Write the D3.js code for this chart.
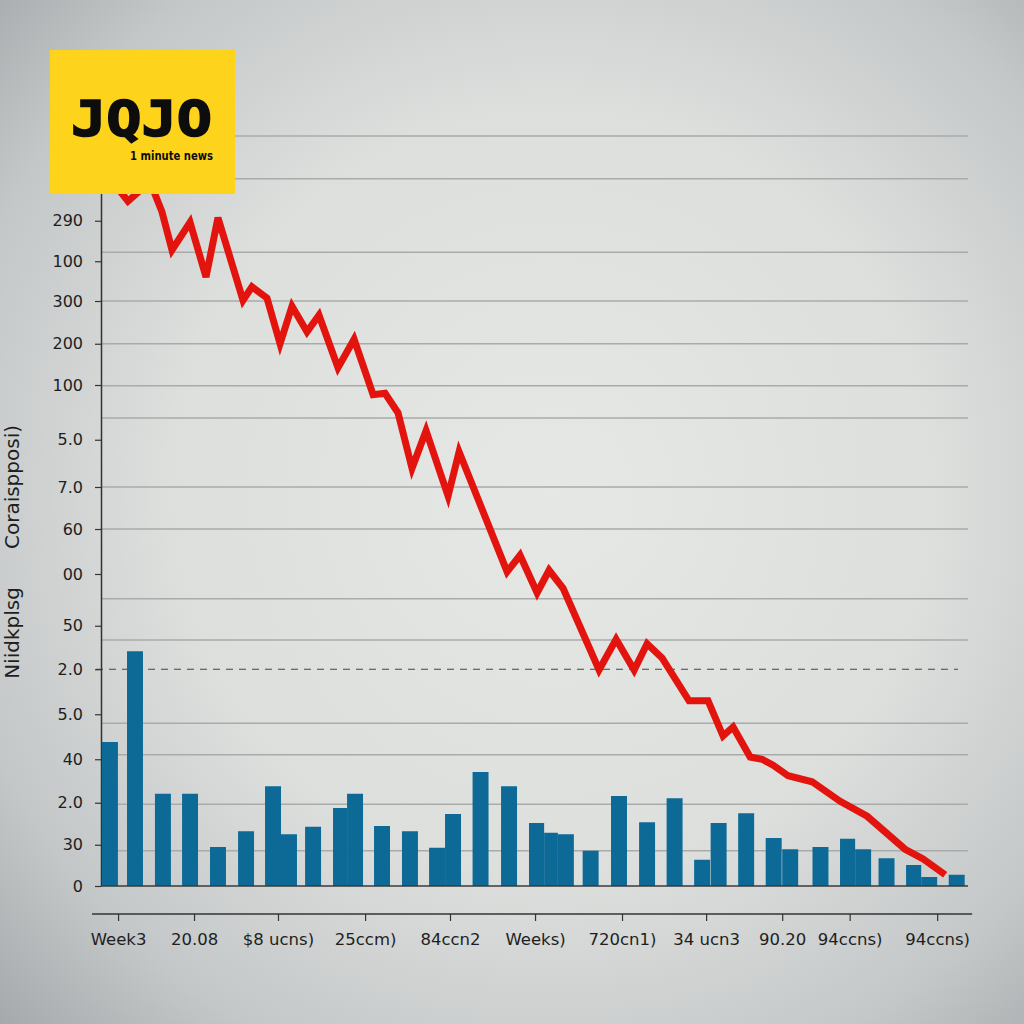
<!DOCTYPE html>
<html>
<head>
<meta charset="utf-8">
<script src="https://cdn.jsdelivr.net/npm/d3@7"></script>
<style>
  html, body { margin: 0; padding: 0; }
  body { width: 1024px; height: 1024px; overflow: hidden; }
  svg { display: block; }
</style>
</head>
<body>
<svg id="chart" width="1024" height="1024"></svg>
<script>
// ---------- data ----------
const yTickValues = [88.7, 83.3, 78, 72.3, 66.8, 59.5, 53.2, 47.6, 41.6, 34.7, 28.9, 22.9, 16.9, 11.1, 5.5, 0];
const yTickLabels = ["290", "100", "300", "200", "100", "5.0", "7.0", "60", "00", "50", "2.0", "5.0", "40", "2.0", "30", "0"];
const gridValues = [100, 94.3, 84.5, 78, 72.3, 66.7, 62.4, 53.2, 47.6, 38.3, 32.8, 21.7, 17.5, 10.9, 4.7];
const refValue = 28.9;

const xTickValues = [1.24, 6.76, 12.86, 19.19, 25.36, 31.54, 37.86, 43.97, 49.5, 54.4, 60.76];
const xTickLabels = ["Week3", "20.08", "$8 ucns)", "25ccm)", "84ccn2", "Weeks)", "720cn1)", "34 ucn3", "90.20", "94ccns)", "94ccns)"];

const barWeek = [0.07, 1.89, 3.92, 5.89, 7.92, 9.96, 11.92, 13.08, 14.83, 16.86, 17.88, 19.84, 21.87, 23.84, 25.0, 27.0, 29.07, 31.1, 32.2, 33.2, 35.0, 37.06, 39.1, 41.1, 43.1, 44.3, 46.3, 48.3, 49.5, 51.7, 53.7, 54.8, 56.5, 58.5, 59.6, 61.6];
const barValue = [19.2, 31.3, 12.3, 12.3, 5.2, 7.3, 13.3, 6.9, 7.9, 10.4, 12.3, 8.0, 7.3, 5.1, 9.6, 15.2, 13.3, 8.4, 7.1, 6.9, 4.7, 12.0, 8.5, 11.7, 3.5, 8.4, 9.7, 6.4, 4.9, 5.2, 6.3, 4.9, 3.7, 2.8, 1.2, 1.5];

const lineWeek = [1.02, 1.96, 3.56, 4.43, 5.16, 6.47, 7.63, 8.50, 10.32, 10.97, 12.06, 13.01, 13.88, 14.97, 15.84, 17.22, 18.39, 19.77, 20.64, 21.58, 22.60, 23.62, 25.22, 26.02, 29.51, 30.45, 31.69, 32.56, 33.58, 36.19, 37.43, 38.74, 39.68, 40.77, 42.73, 44.11, 45.20, 45.93, 47.17, 48.04, 48.84, 49.93, 51.67, 53.71, 55.67, 58.43, 59.74, 61.34];
const lineValue = [93.5, 91.3, 93.9, 89.9, 84.8, 88.5, 81.2, 89.1, 78.1, 79.9, 78.4, 72.3, 77.3, 73.9, 76.1, 69.1, 72.9, 65.5, 65.7, 63.1, 55.7, 60.7, 52.0, 57.9, 41.9, 44.1, 39.1, 42.1, 39.7, 28.8, 32.9, 28.8, 32.3, 30.4, 24.7, 24.7, 20.0, 21.2, 17.2, 16.9, 16.1, 14.7, 13.9, 11.3, 9.3, 4.9, 3.6, 1.5];

const yTitles = ["Coraispposi)", "Niidkplsg"];
const logoText = "JQJO";
const logoSub = "1 minute news";

// ---------- layout ----------
const svg = d3.select("#chart");
const W = 1024, H = 1024;
const plot = { left: 101, right: 968, top: 136, bottom: 886 };
const barWidthWeeks = 1.16;

const x = d3.scaleLinear().domain([0, 63]).range([plot.left, plot.right]);
const y = d3.scaleLinear().domain([0, 100]).range([plot.bottom, plot.top]);

// background
const defs = svg.append("defs");
const rg = defs.append("radialGradient").attr("id", "bg")
  .attr("cx", "54%").attr("cy", "48%").attr("r", "75%");
rg.append("stop").attr("offset", "0%").attr("stop-color", "#e6e8e6");
rg.append("stop").attr("offset", "50%").attr("stop-color", "#dddfdd");
rg.append("stop").attr("offset", "80%").attr("stop-color", "#c4c7c8");
rg.append("stop").attr("offset", "100%").attr("stop-color", "#a6a9ab");
svg.append("rect").attr("width", W).attr("height", H).attr("fill", "url(#bg)");

// gridlines
svg.append("g").selectAll("line").data(gridValues).join("line")
  .attr("x1", plot.left).attr("x2", plot.right)
  .attr("y1", d => y(d)).attr("y2", d => y(d))
  .attr("stroke", "#a9abab").attr("stroke-width", 1.5);

// dashed reference line
svg.append("line")
  .attr("x1", plot.left - 5).attr("x2", plot.right - 10)
  .attr("y1", y(refValue)).attr("y2", y(refValue))
  .attr("stroke", "#444").attr("stroke-width", 1.1)
  .attr("stroke-dasharray", "7,6");

// y axis
const yAxis = d3.axisLeft(y)
  .tickValues(yTickValues)
  .tickFormat((d, i) => yTickLabels[i])
  .tickSize(6).tickPadding(12).tickSizeOuter(0);
const gy = svg.append("g").attr("transform", `translate(${plot.left},0)`).call(yAxis);
gy.select(".domain").attr("stroke", "#333").attr("stroke-width", 1.5);
gy.selectAll(".tick line").attr("stroke", "#333").attr("stroke-width", 1.2);
gy.selectAll(".tick text").attr("fill", "#1e1e1e")
  .style("font-family", "'DejaVu Sans', sans-serif").style("font-size", "16px");

// bars
const barData = barWeek.map((w, i) => ({
  w, v: barValue[i],
  end: Math.min(w + barWidthWeeks, i < barWeek.length - 1 ? barWeek[i + 1] : Infinity)
}));
svg.append("g").selectAll("rect").data(barData).join("rect")
  .attr("x", d => x(d.w))
  .attr("width", d => x(d.end) - x(d.w))
  .attr("y", d => y(d.v))
  .attr("height", d => y(0) - y(d.v))
  .attr("fill", "#0d6a96");

// baseline
svg.append("line")
  .attr("x1", plot.left).attr("x2", plot.right)
  .attr("y1", y(0)).attr("y2", y(0))
  .attr("stroke", "#3a3a3a").attr("stroke-width", 1.6);

// red line
const lineData = lineWeek.map((w, i) => [w, lineValue[i]]);
svg.append("path").datum(lineData)
  .attr("d", d3.line().x(d => x(d[0])).y(d => y(d[1])))
  .attr("fill", "none").attr("stroke", "#e3140e").attr("stroke-width", 7)
  .attr("stroke-linejoin", "miter").attr("stroke-miterlimit", 4);

// x axis (below the baseline)
const xAxisY = y(0) + 28;
const xAxis = d3.axisBottom(x)
  .tickValues(xTickValues)
  .tickFormat((d, i) => xTickLabels[i])
  .tickSize(7).tickPadding(12).tickSizeOuter(0);
const gx = svg.append("g").attr("transform", `translate(0,${xAxisY})`).call(xAxis);
gx.select(".domain").remove();
gx.append("line").attr("x1", x(-0.65)).attr("x2", x(63.3)).attr("y1", 0).attr("y2", 0)
  .attr("stroke", "#333").attr("stroke-width", 1.5);
gx.selectAll(".tick line").attr("stroke", "#333").attr("stroke-width", 1.2);
gx.selectAll(".tick text").attr("fill", "#1e1e1e")
  .style("font-family", "'DejaVu Sans', sans-serif").style("font-size", "16.5px");

// rotated y titles
const titleCenters = [487, 633];
svg.append("g").selectAll("text").data(yTitles).join("text")
  .attr("transform", (d, i) => `translate(19,${titleCenters[i]}) rotate(-90)`)
  .attr("text-anchor", "middle")
  .attr("fill", "#1e1e1e")
  .style("font-family", "'DejaVu Sans', sans-serif").style("font-size", "20px")
  .text(d => d);

// logo
const logo = svg.append("g");
logo.append("rect").attr("x", 50).attr("y", 50).attr("width", 185).attr("height", 144).attr("fill", "#fed31c");
logo.append("text").attr("x", 71).attr("y", 136)
  .attr("textLength", 141).attr("lengthAdjust", "spacingAndGlyphs")
  .attr("fill", "#0d0d0d").attr("stroke", "#0d0d0d").attr("stroke-width", 1.6)
  .style("font-family", "'DejaVu Sans Mono', monospace").style("font-weight", "bold").style("font-size", "50px")
  .text(logoText);
logo.append("text").attr("x", 130).attr("y", 160)
  .attr("textLength", 83).attr("lengthAdjust", "spacingAndGlyphs")
  .attr("fill", "#0d0d0d")
  .style("font-family", "'DejaVu Sans Condensed', 'DejaVu Sans', sans-serif").style("font-weight", "bold").style("font-size", "12.5px")
  .text(logoSub);
</script>
</body>
</html>
